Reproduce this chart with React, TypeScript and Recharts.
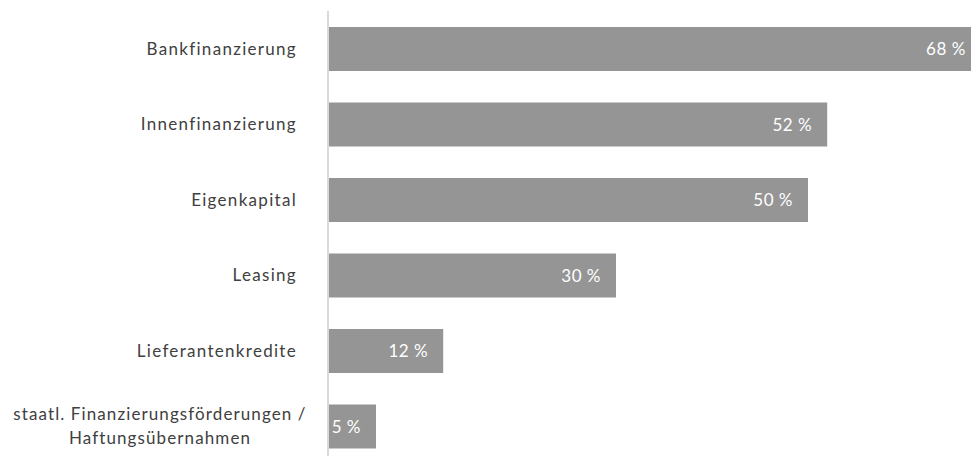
import { Bar, BarChart, LabelList, XAxis, YAxis } from 'recharts';

const categories = [
  'Bankfinanzierung',
  'Innenfinanzierung',
  'Eigenkapital',
  'Leasing',
  'Lieferantenkredite',
  'staatl. Finanzierungsförderungen / Haftungsübernahmen',
];
const shares = [68, 52, 50, 30, 12, 5];

const data = categories.map((name, i) => ({ name, value: shares[i] }));

const font = 'Lato, "Open Sans", sans-serif';

function CategoryTick({ x, y, payload }: any) {
  const label: string = payload.value;
  if (label.includes(' / ')) {
    const [first, second] = label.split(' / ');
    return (
      <text
        x={160}
        y={y}
        textAnchor="middle"
        fill="#404040"
        fontSize={17}
        letterSpacing={1.1}
        fontFamily={font}
      >
        <tspan x={160} dy={-6}>{first} /</tspan>
        <tspan x={160} dy={24}>{second}</tspan>
      </text>
    );
  }
  return (
    <text
      x={x - 23}
      y={y}
      dy={6}
      textAnchor="end"
      fill="#404040"
      fontSize={17}
      letterSpacing={1.3}
      fontFamily={font}
    >
      {label}
    </text>
  );
}

export default function App() {
  return (
    <div
      style={{
        position: 'absolute',
        left: 0,
        top: 0,
        width: 971,
        height: 456,
        overflow: 'hidden',
        background: '#fff',
      }}
    >
      <BarChart
        width={1000}
        height={464}
        data={data}
        layout="vertical"
        margin={{ top: 11, right: 0, bottom: 0, left: 0 }}
      >
        <XAxis type="number" domain={[0, 70]} hide />
        <YAxis
          type="category"
          dataKey="name"
          width={328}
          axisLine={{ stroke: '#d9d9d9', strokeWidth: 2 }}
          tickLine={false}
          tick={<CategoryTick />}
          interval={0}
        />
        <Bar dataKey="value" fill="#959595" barSize={44} isAnimationActive={false}>
          <LabelList
            dataKey="value"
            position="insideRight"
            offset={15}
            formatter={(v: any) => `${v} %`}
            fill="#ffffff"
            fontSize={17}
            letterSpacing={0.5}
            fontFamily={font}
          />
        </Bar>
      </BarChart>
    </div>
  );
}
